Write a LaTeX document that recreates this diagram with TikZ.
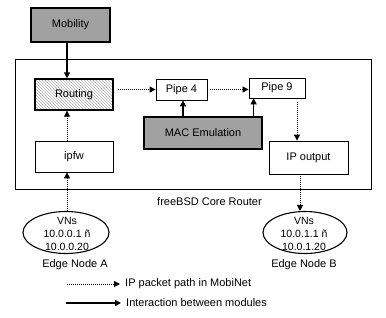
\documentclass[tikz,border=0pt]{standalone}
\usepackage{fontspec}
\setmainfont{Liberation Sans}
\usetikzlibrary{shapes.geometric,patterns,arrows.meta}
\begin{document}
\begin{tikzpicture}[x=1pt,y=-1pt,
  txt/.style={font=\fontsize{11}{13}\selectfont},
  box/.style={draw, line width=0.8pt, fill=white, inner sep=0pt, txt},
  graybox/.style={box, fill=black!37, line width=1.4pt},
  hatchbox/.style={draw, line width=1.4pt, inner sep=0pt, txt, pattern=north west lines, pattern color=black!32},
  vn/.style={draw, ellipse, line width=1.1pt, inner sep=0pt},
  vntext/.style={align=center, inner sep=0pt, font=\fontsize{10.5}{13}\selectfont},
  lbl/.style={inner sep=0pt, txt},
  tip/.style={-{Triangle[length=6pt,width=6pt]}},
  pkt/.style={tip, line width=0.9pt, dash pattern=on 1pt off 1pt},
  inter/.style={tip, line width=1.5pt},
]
\useasboundingbox (0,0) rectangle (386,317);
% core router frame
\node[draw, line width=0.9pt, minimum width=356pt, minimum height=130pt, inner sep=0pt] (router) at (193,124) {};
\node[lbl] (core) at (209.5,202) {freeBSD Core Router};
% modules
\node[graybox, minimum width=79pt, minimum height=34pt] (mob) at (70.5,25) {Mobility};
\node[hatchbox, minimum width=78pt, minimum height=31pt] (rout) at (74,94.5) {Routing};
\node[box, minimum width=51pt, minimum height=21pt] (p4) at (181.5,89.5) {Pipe 4};
\node[box, minimum width=56pt, minimum height=20pt] (p9) at (277,88) {Pipe 9};
\node[graybox, minimum width=118pt, minimum height=32pt] (mac) at (203,133) {MAC Emulation};
\node[box, minimum width=78pt, minimum height=31pt] (ipfw) at (74,156.5) {ipfw};
\node[box, minimum width=79pt, minimum height=33pt] (ipout) at (308.5,157.5) {IP output};
% edge nodes
\node[vn, minimum width=86pt, minimum height=42pt] (ea) at (66,232.5) {};
\node[vntext] (eat) at (67,234) {VNs\\10.0.0.1 ñ\\10.0.0.20};
\node[lbl] (eal) at (75,265) {Edge Node A};
\node[vn, minimum width=84pt, minimum height=42pt] (eb) at (305,232.5) {};
\node[vntext] (ebt) at (304,234) {VNs\\10.0.1.1 ñ\\10.0.1.20};
\node[lbl] (ebl) at (304,265) {Edge Node B};
% anchor points for connectors
\coordinate (mobS) at ([xshift=-3.5pt]mob.south);
\coordinate (routN) at ([xshift=-7pt]rout.north);
\coordinate (routS) at ([xshift=-7pt]rout.south);
\coordinate (ipfwS) at ([xshift=-7pt]ipfw.south);
\coordinate (p4S) at ([xshift=1.5pt]p4.south);
\coordinate (p9S) at ([xshift=5pt]p9.south west);
\coordinate (p9D) at ([xshift=20pt,yshift=-4pt]p9.south);
\coordinate (ipoS) at ([xshift=-8.5pt]ipout.south);
% connectors
\draw[inter, line width=2pt] (mobS) -- (routN);
\draw[pkt] ([xshift=4pt]rout.east |- p4.west) -- (p4.west);
\draw[pkt] ([xshift=3pt]p4.east) -- (p9.west |- p4.east);
\draw[inter] (mac.north -| p4S) -- (p4S);
\draw[inter] (mac.north -| p9S) -- (p9S);
\draw[pkt] (p9D) -- (ipout.north -| p9D);
\draw[pkt] (ipfw.north -| routS) -- (routS);
\draw[pkt] (ea.north -| ipfwS) -- (ipfwS);
\draw[pkt] (ipoS) -- (eb.north -| ipoS);
% legend
\node[lbl, anchor=west] (l1) at (125,284) {IP packet path in MobiNet};
\node[lbl, anchor=west] (l2) at (126,303) {Interaction between modules};
\coordinate (l1s) at (67,284);
\coordinate (l2s) at (66,303);
\draw[pkt] (l1s) -- ([xshift=-5pt]l1.west);
\draw[inter] (l2s) -- ([xshift=-5pt]l2.west);
\end{tikzpicture}
\end{document}
